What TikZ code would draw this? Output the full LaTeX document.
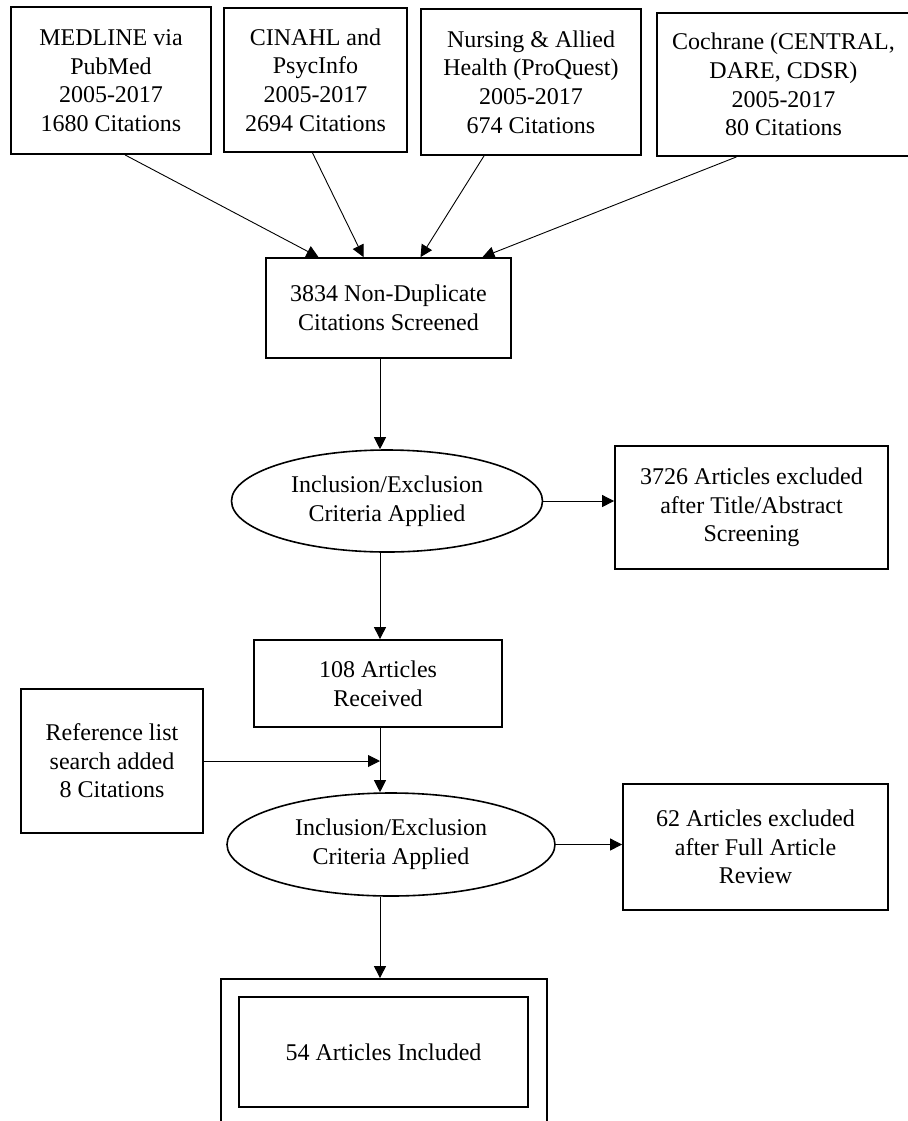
\documentclass[tikz,border=0pt]{standalone}
\usepackage{fontspec}
\setmainfont{Liberation Serif}
\usepackage{tikz}
\usetikzlibrary{calc, shapes.geometric, positioning, arrows.meta}

\begin{document}
\begin{tikzpicture}[x=0.5pt, y=-0.5pt,
  box/.style={draw, line width=0.9pt, inner sep=0pt, align=center, font=\fontsize{12}{14.3}\selectfont},
  oval/.style={draw, ellipse, line width=0.8pt, inner sep=0pt, align=center, font=\fontsize{12}{14.3}\selectfont},
  arr/.style={line width=0.45pt, -{Triangle[length=6pt, width=6pt]}}]
\useasboundingbox (0,0) rectangle (908,1121);
% databases
\node[box, minimum width=100pt, minimum height=73.5pt] (med) at (111,80.5) {MEDLINE via\\PubMed\\2005-2017\\1680 Citations};
\node[box, minimum width=91.5pt, minimum height=72pt] (cin) at (315.5,80) {CINAHL and\\PsycInfo\\2005-2017\\2694 Citations};
\node[box, minimum width=110pt, minimum height=73pt] (nur) at (531,82) {Nursing \& Allied\\Health (ProQuest)\\2005-2017\\674 Citations};
\node[box, minimum width=126.5pt, minimum height=71.5pt] (coc) at (783.5,84.5) {Cochrane (CENTRAL,\\DARE, CDSR)\\2005-2017\\80 Citations};
% screening
\node[box, minimum width=122.5pt, minimum height=50pt] (dup) at (388.5,308) {3834 Non-Duplicate\\Citations Screened};
\node[oval, minimum width=155.5pt, minimum height=51pt] (inc1) at (387,501) {Inclusion/Exclusion\\Criteria Applied};
\node[box, minimum width=136.5pt, minimum height=61.5pt] (ex1) at (751.5,507.5) {3726 Articles excluded\\after Title/Abstract\\Screening};
\node[box, minimum width=124pt, minimum height=43.5pt] (rec) at (378,683.5) {108 Articles\\Received};
\node[box, minimum width=91pt, minimum height=72pt] (ref) at (112,761) {Reference list\\search added\\8 Citations};
\node[oval, minimum width=164pt, minimum height=51.5pt] (inc2) at (391,844.5) {Inclusion/Exclusion\\Criteria Applied};
\node[box, minimum width=132.5pt, minimum height=63pt] (ex2) at (755.5,847) {62 Articles excluded\\after Full Article\\Review};
% included
\node[box, minimum width=163pt, minimum height=73pt] (fin) at (384,1052) {};
\node[box, minimum width=144.5pt, minimum height=55pt] (incl) at (383.5,1052) {54 Articles Included};
\coordinate (spine) at (380,0);
\foreach \src/\sx/\dx in {med/14/-70, cin/-3/-25, nur/-47/32, coc/-47/94}
  \draw[arr] ($(\src.south)+(\sx,0)$) -- ($(dup.north)+(\dx,0)$);
\draw[arr] (dup.south -| spine) -- (inc1.north -| spine);
\draw[arr] (inc1.east) -- (inc1.east -| ex1.west);
\draw[arr] (inc1.south -| spine) -- (rec.north -| spine);
\draw[arr] (rec.south -| spine) -- (inc2.north -| spine);
\draw[arr] (ref.east) -- (ref.east -| spine);
\draw[arr] (inc2.east) -- (inc2.east -| ex2.west);
\draw[arr] (inc2.south -| spine) -- (fin.north -| spine);
\end{tikzpicture}
\end{document}
